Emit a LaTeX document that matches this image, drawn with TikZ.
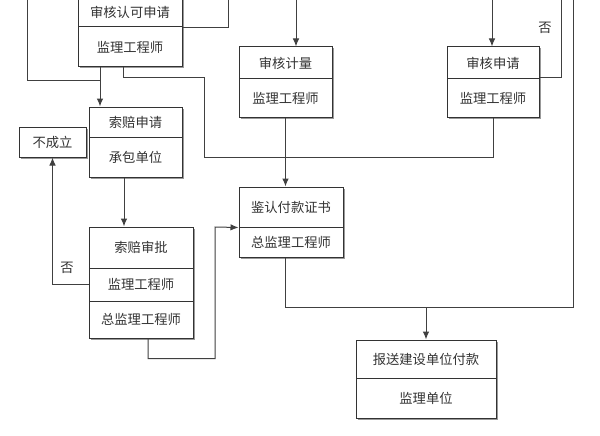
\documentclass[tikz,border=0pt]{standalone}
\usepackage{fontspec}
\newfontfamily\cjk{Noto Sans CJK SC}
\usetikzlibrary{arrows.meta, shadows}

\begin{document}
\begin{tikzpicture}[x=1pt, y=-1pt, >={Latex[length=8pt,width=6.5pt]}, line width=1pt,
  cell/.style={draw=black!80, fill=white, inner sep=0pt, text=black!80,
    font=\cjk\fontsize{13.3}{15}\selectfont,
    drop shadow={shadow xshift=1.5pt, shadow yshift=-1.5pt, fill=black!50, opacity=0.8}},
  tag/.style={text=black!80, font=\cjk\fontsize{13.3}{15}\selectfont},
  wire/.style={draw=black!75}]
  \clip (0,0) rectangle (600,436);
  \fill[white] (0,0) rectangle (600,436);

  \node[cell, minimum width=104pt, minimum height=30pt] (rev1) at (130,12) {审核认可申请};
  \node[cell, minimum width=104pt, minimum height=40pt] (rev2) at (130,47) {监理工程师};
  \node[cell, minimum width=93pt, minimum height=32pt] (meas1) at (285.5,63) {审核计量};
  \node[cell, minimum width=93pt, minimum height=38pt] (meas2) at (285.5,98) {监理工程师};
  \node[cell, minimum width=92pt, minimum height=32pt] (appl1) at (493,63) {审核申请};
  \node[cell, minimum width=92pt, minimum height=38pt] (appl2) at (493,98) {监理工程师};
  \node[cell, minimum width=93pt, minimum height=30pt] (claim1) at (135.5,122) {索赔申请};
  \node[cell, minimum width=93pt, minimum height=40pt] (claim2) at (135.5,157) {承包单位};
  \node[cell, minimum width=67pt, minimum height=30pt] (fail) at (52.5,142) {不成立};
  \node[cell, minimum width=104pt, minimum height=41pt] (appr1) at (141,247.5) {索赔审批};
  \node[cell, minimum width=104pt, minimum height=33pt] (appr2) at (141,284.5) {监理工程师};
  \node[cell, minimum width=104pt, minimum height=37pt] (appr3) at (141,319.5) {总监理工程师};
  \node[cell, minimum width=104pt, minimum height=40pt] (cert1) at (291,207) {鉴认付款证书};
  \node[cell, minimum width=104pt, minimum height=30pt] (cert2) at (291,242) {总监理工程师};
  \node[cell, minimum width=140pt, minimum height=38pt] (pay1) at (426,359) {报送建设单位付款};
  \node[cell, minimum width=140pt, minimum height=40pt] (pay2) at (426,398) {监理单位};

  \node[tag] (no1) at (545,28) {否};
  \node[tag] (no2) at (67,268) {否};

  \coordinate (inL) at (27,-2);
  \coordinate (jL) at (100,81);
  \coordinate (outA) at (228,-2);
  \coordinate (inB) at (296,-2);
  \coordinate (inC) at (492,-2);
  \coordinate (outC) at (561,-2);
  \coordinate (outR) at (573,-2);
  \coordinate (jR) at (426,307);

  \draw[wire] (inL) |- (jL);
  \draw[wire, ->] ([xshift=-30pt]rev2.south) -- ([xshift=-30pt]rev2.south |- claim1.north);
  \draw[wire] (rev1.south east) -| (outA);
  \draw[wire] ([xshift=-7pt]rev2.south) -- ++(0,10) -| (204,157) -| (appl2.south);
  \draw[wire, ->] (inB) -- (inB |- meas1.north);
  \draw[wire, ->] (inC) -- (inC |- appl1.north);
  \draw[wire] ([yshift=1.5pt]appl1.south east) -| (outC);
  \draw[wire, ->] (meas2.south) -- (meas2.south |- cert1.north);
  \draw[wire] ([xshift=-5.5pt]cert2.south) |- (573,307) -- (outR);
  \draw[wire, ->] (jR) -- (pay1.north);
  \draw[wire, ->] ([xshift=-11.5pt]claim2.south) -- ([xshift=-11.5pt]claim2.south |- appr1.north);
  \draw[wire, ->] (appr2.west) -| (fail.south);
  \draw[wire, ->] ([xshift=7pt]appr3.south) -- ++(0,20) -| (215,227) -- (cert1.south west);
\end{tikzpicture}
\end{document}
